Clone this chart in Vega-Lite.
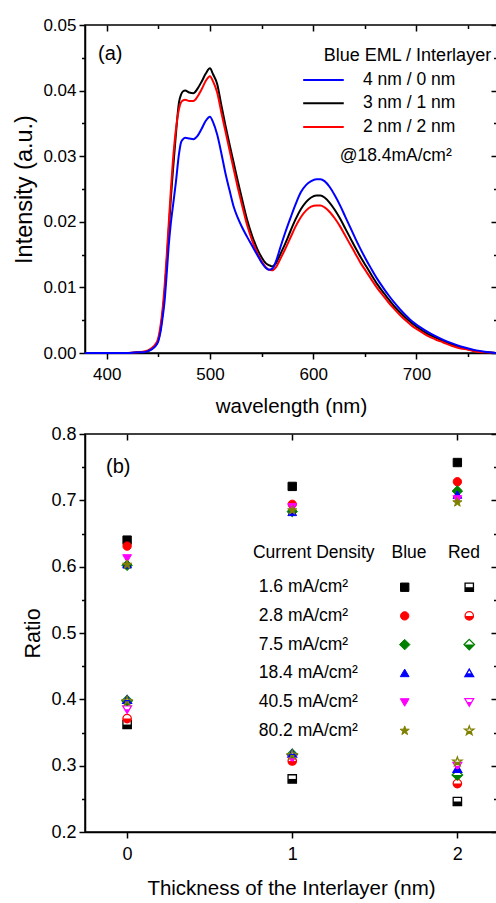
{
  "$schema": "https://vega.github.io/schema/vega-lite/v6.json",
  "padding": {"left": 12, "top": 15, "right": 0, "bottom": 0},
  "spacing": 6,
  "resolve": {"scale": {"color": "independent", "shape": "independent", "stroke": "independent"}},
  "config": {
    "font": "Liberation Sans",
    "view": {"stroke": "black", "strokeWidth": 1.5},
    "axis": {"grid": false, "domainColor": "black", "domainWidth": 1.5, "tickColor": "black", "tickWidth": 1.5, "labelColor": "black", "titleColor": "black", "titleFontWeight": "normal", "titleFontSize": 20.5, "labelFont": "Liberation Sans", "titleFont": "Liberation Sans"}
  },
  "datasets": {
    "pts": [
      {"t": 0, "d": "1.6", "c": "Blue", "r": 0.640},
      {"t": 0, "d": "2.8", "c": "Blue", "r": 0.631},
      {"t": 0, "d": "7.5", "c": "Blue", "r": 0.602},
      {"t": 0, "d": "18.4", "c": "Blue", "r": 0.603},
      {"t": 0, "d": "40.5", "c": "Blue", "r": 0.613},
      {"t": 0, "d": "80.2", "c": "Blue", "r": 0.603},
      {"t": 1, "d": "1.6", "c": "Blue", "r": 0.721},
      {"t": 1, "d": "2.8", "c": "Blue", "r": 0.694},
      {"t": 1, "d": "7.5", "c": "Blue", "r": 0.683},
      {"t": 1, "d": "18.4", "c": "Blue", "r": 0.682},
      {"t": 1, "d": "40.5", "c": "Blue", "r": 0.690},
      {"t": 1, "d": "80.2", "c": "Blue", "r": 0.685},
      {"t": 2, "d": "1.6", "c": "Blue", "r": 0.757},
      {"t": 2, "d": "2.8", "c": "Blue", "r": 0.728},
      {"t": 2, "d": "7.5", "c": "Blue", "r": 0.714},
      {"t": 2, "d": "18.4", "c": "Blue", "r": 0.708},
      {"t": 2, "d": "40.5", "c": "Blue", "r": 0.702},
      {"t": 2, "d": "80.2", "c": "Blue", "r": 0.697},
      {"t": 0, "d": "1.6", "c": "Red", "r": 0.362},
      {"t": 0, "d": "2.8", "c": "Red", "r": 0.371},
      {"t": 0, "d": "7.5", "c": "Red", "r": 0.398},
      {"t": 0, "d": "18.4", "c": "Red", "r": 0.399},
      {"t": 0, "d": "40.5", "c": "Red", "r": 0.385},
      {"t": 0, "d": "80.2", "c": "Red", "r": 0.397},
      {"t": 1, "d": "1.6", "c": "Red", "r": 0.280},
      {"t": 1, "d": "2.8", "c": "Red", "r": 0.307},
      {"t": 1, "d": "7.5", "c": "Red", "r": 0.317},
      {"t": 1, "d": "18.4", "c": "Red", "r": 0.318},
      {"t": 1, "d": "40.5", "c": "Red", "r": 0.311},
      {"t": 1, "d": "80.2", "c": "Red", "r": 0.316},
      {"t": 2, "d": "1.6", "c": "Red", "r": 0.246},
      {"t": 2, "d": "2.8", "c": "Red", "r": 0.273},
      {"t": 2, "d": "7.5", "c": "Red", "r": 0.286},
      {"t": 2, "d": "18.4", "c": "Red", "r": 0.295},
      {"t": 2, "d": "40.5", "c": "Red", "r": 0.300},
      {"t": 2, "d": "80.2", "c": "Red", "r": 0.306},
      {"t": 1.681, "d": "1.6", "c": "Blue", "r": 0.5690},
      {"t": 1.681, "d": "2.8", "c": "Blue", "r": 0.5258},
      {"t": 1.681, "d": "7.5", "c": "Blue", "r": 0.4825},
      {"t": 1.681, "d": "18.4", "c": "Blue", "r": 0.4392},
      {"t": 1.681, "d": "40.5", "c": "Blue", "r": 0.3959},
      {"t": 1.681, "d": "80.2", "c": "Blue", "r": 0.3527},
      {"t": 2.072, "d": "1.6", "c": "Red", "r": 0.5690},
      {"t": 2.072, "d": "2.8", "c": "Red", "r": 0.5258},
      {"t": 2.072, "d": "7.5", "c": "Red", "r": 0.4825},
      {"t": 2.072, "d": "18.4", "c": "Red", "r": 0.4392},
      {"t": 2.072, "d": "40.5", "c": "Red", "r": 0.3959},
      {"t": 2.072, "d": "80.2", "c": "Red", "r": 0.3527}
    ]
  },
  "vconcat": [
    {
      "width": 412,
      "height": 328,
      "data": {"values": [
        {"w": 379, "b": 0, "k": 0, "r": 0},
        {"w": 400, "b": 0, "k": 0, "r": 0},
        {"w": 420, "b": 0, "k": 0, "r": 0},
        {"w": 430, "b": 0.0001, "k": 0.0001, "r": 0.0001},
        {"w": 435, "b": 0.0001, "k": 0.0001, "r": 0.0002},
        {"w": 440, "b": 0.0003, "k": 0.0003, "r": 0.0004},
        {"w": 444, "b": 0.0006, "k": 0.0007, "r": 0.0008},
        {"w": 447, "b": 0.0010, "k": 0.0011, "r": 0.0013},
        {"w": 450, "b": 0.0018, "k": 0.0020, "r": 0.0023},
        {"w": 452, "b": 0.0031, "k": 0.0035, "r": 0.0040},
        {"w": 454, "b": 0.0052, "k": 0.0058, "r": 0.0065},
        {"w": 456, "b": 0.0078, "k": 0.0090, "r": 0.0100},
        {"w": 458, "b": 0.0118, "k": 0.0135, "r": 0.0145},
        {"w": 460, "b": 0.0162, "k": 0.0185, "r": 0.0195},
        {"w": 462, "b": 0.0196, "k": 0.0232, "r": 0.0245},
        {"w": 464, "b": 0.0222, "k": 0.0275, "r": 0.0290},
        {"w": 467, "b": 0.0260, "k": 0.0333, "r": 0.0340},
        {"w": 470, "b": 0.0303, "k": 0.0382, "r": 0.0372},
        {"w": 472, "b": 0.0321, "k": 0.0394, "r": 0.0382},
        {"w": 474, "b": 0.0326, "k": 0.0399, "r": 0.0385},
        {"w": 476, "b": 0.0328, "k": 0.0400, "r": 0.0386},
        {"w": 480, "b": 0.0327, "k": 0.0397, "r": 0.0384},
        {"w": 484, "b": 0.0326, "k": 0.0396, "r": 0.0384},
        {"w": 488, "b": 0.0331, "k": 0.0403, "r": 0.0391},
        {"w": 492, "b": 0.0342, "k": 0.0414, "r": 0.0402},
        {"w": 496, "b": 0.0354, "k": 0.0426, "r": 0.0415},
        {"w": 500, "b": 0.0360, "k": 0.0434, "r": 0.0422},
        {"w": 503, "b": 0.0352, "k": 0.0425, "r": 0.0414},
        {"w": 507, "b": 0.0333, "k": 0.0410, "r": 0.0397},
        {"w": 511, "b": 0.0305, "k": 0.0378, "r": 0.0367},
        {"w": 515, "b": 0.0274, "k": 0.0347, "r": 0.0338},
        {"w": 519, "b": 0.0248, "k": 0.0318, "r": 0.0309},
        {"w": 523, "b": 0.0223, "k": 0.0290, "r": 0.0280},
        {"w": 527, "b": 0.0206, "k": 0.0262, "r": 0.0252},
        {"w": 531, "b": 0.0192, "k": 0.0235, "r": 0.0226},
        {"w": 536, "b": 0.0177, "k": 0.0203, "r": 0.0195},
        {"w": 541, "b": 0.0163, "k": 0.0178, "r": 0.0171},
        {"w": 546, "b": 0.0149, "k": 0.0158, "r": 0.0152},
        {"w": 550, "b": 0.0138, "k": 0.0146, "r": 0.0140},
        {"w": 554, "b": 0.0130, "k": 0.0137, "r": 0.0131},
        {"w": 557, "b": 0.0127, "k": 0.0134, "r": 0.0127},
        {"w": 560, "b": 0.0128, "k": 0.0132, "r": 0.0126},
        {"w": 564, "b": 0.0140, "k": 0.0137, "r": 0.0131},
        {"w": 568, "b": 0.0160, "k": 0.0150, "r": 0.0143},
        {"w": 573, "b": 0.0184, "k": 0.0167, "r": 0.0159},
        {"w": 578, "b": 0.0206, "k": 0.0186, "r": 0.0176},
        {"w": 583, "b": 0.0227, "k": 0.0204, "r": 0.0193},
        {"w": 588, "b": 0.0245, "k": 0.0219, "r": 0.0207},
        {"w": 593, "b": 0.0256, "k": 0.0230, "r": 0.0217},
        {"w": 598, "b": 0.0262, "k": 0.0237, "r": 0.0223},
        {"w": 603, "b": 0.0265, "k": 0.0240, "r": 0.0225},
        {"w": 607, "b": 0.0265, "k": 0.0240, "r": 0.0225},
        {"w": 611, "b": 0.0262, "k": 0.0237, "r": 0.0222},
        {"w": 616, "b": 0.0253, "k": 0.0229, "r": 0.0215},
        {"w": 621, "b": 0.0240, "k": 0.0218, "r": 0.0205},
        {"w": 626, "b": 0.0225, "k": 0.0205, "r": 0.0193},
        {"w": 631, "b": 0.0208, "k": 0.0190, "r": 0.0179},
        {"w": 636, "b": 0.0191, "k": 0.0175, "r": 0.0165},
        {"w": 641, "b": 0.0174, "k": 0.0160, "r": 0.0151},
        {"w": 646, "b": 0.0158, "k": 0.0146, "r": 0.0137},
        {"w": 651, "b": 0.0143, "k": 0.0133, "r": 0.0125},
        {"w": 656, "b": 0.0129, "k": 0.0120, "r": 0.0113},
        {"w": 662, "b": 0.0113, "k": 0.0105, "r": 0.0099},
        {"w": 668, "b": 0.0099, "k": 0.0092, "r": 0.0087},
        {"w": 673, "b": 0.0088, "k": 0.0082, "r": 0.0077},
        {"w": 678, "b": 0.0078, "k": 0.0072, "r": 0.0068},
        {"w": 684, "b": 0.0067, "k": 0.0062, "r": 0.0058},
        {"w": 690, "b": 0.0057, "k": 0.0053, "r": 0.0049},
        {"w": 696, "b": 0.0048, "k": 0.0045, "r": 0.0041},
        {"w": 702, "b": 0.0041, "k": 0.0038, "r": 0.0035},
        {"w": 710, "b": 0.0033, "k": 0.0030, "r": 0.0027},
        {"w": 718, "b": 0.0026, "k": 0.0024, "r": 0.0021},
        {"w": 726, "b": 0.0020, "k": 0.0018, "r": 0.0016},
        {"w": 734, "b": 0.0015, "k": 0.0013, "r": 0.0011},
        {"w": 743, "b": 0.0010, "k": 0.0009, "r": 0.0007},
        {"w": 750, "b": 0.0007, "k": 0.0006, "r": 0.0005},
        {"w": 758, "b": 0.0004, "k": 0.0003, "r": 0.0002},
        {"w": 766, "b": 0.0002, "k": 0.0001, "r": 0.0001},
        {"w": 778, "b": 0, "k": 0, "r": 0}
      ]},
      "layer": [
        {
          "transform": [{"fold": ["k", "r", "b"], "as": ["s", "v"]}],
          "mark": {"type": "line", "strokeWidth": 2, "interpolate": "monotone"},
          "encoding": {
            "x": {"field": "w", "type": "quantitative", "scale": {"domain": [379, 778], "nice": false, "zero": false},
              "axis": {"title": "wavelength (nm)", "values": [400, 500, 600, 700], "tickSize": 6, "labelFontSize": 17, "labelPadding": 7, "titlePadding": 14}},
            "y": {"field": "v", "type": "quantitative", "scale": {"domain": [0, 0.05], "nice": false},
              "axis": {"title": "Intensity (a.u.)", "titleFontSize": 23.5, "values": [0, 0.01, 0.02, 0.03, 0.04, 0.05], "format": ".2f", "tickSize": 6, "labelFontSize": 17, "labelPadding": 3, "titlePadding": 6}},
            "color": {"field": "s", "type": "nominal", "scale": {"domain": ["b", "k", "r"], "range": ["#0000ff", "#000000", "#ff0000"]}, "legend": null}
          }
        },
        {
          "data": {"values": [
            {"x1": 590.3, "x2": 629.6, "y": 0.04162, "s": "b"},
            {"x1": 590.3, "x2": 629.6, "y": 0.03806, "s": "k"},
            {"x1": 590.3, "x2": 629.6, "y": 0.03445, "s": "r"}
          ]},
          "mark": {"type": "rule", "strokeWidth": 2},
          "encoding": {
            "x": {"field": "x1", "type": "quantitative", "axis": {"orient": "bottom", "values": [450, 550, 650, 750], "labels": false, "tickSize": 3.5, "title": null, "domain": false}},
            "x2": {"field": "x2"},
            "y": {"field": "y", "type": "quantitative", "axis": {"orient": "left", "values": [0.005, 0.015, 0.025, 0.035, 0.045], "labels": false, "tickSize": 3.5, "title": null, "domain": false}},
            "color": {"field": "s", "type": "nominal", "legend": null}
          }
        },
        {
          "data": {"values": [
            {"x": 648.2, "y": 0.04162, "txt": "4 nm / 0 nm"},
            {"x": 648.2, "y": 0.03806, "txt": "3 nm / 1 nm"},
            {"x": 648.2, "y": 0.03445, "txt": "2 nm / 2 nm"},
            {"x": 625.6, "y": 0.0300, "txt": "@18.4mA/cm²"}
          ]},
          "mark": {"type": "text", "align": "left", "baseline": "middle", "fontSize": 17.5, "color": "black"},
          "encoding": {
            "x": {"field": "x", "type": "quantitative", "axis": {"orient": "top", "values": [400, 500, 600, 700], "labels": false, "tickSize": -6, "title": null, "domain": false}},
            "y": {"field": "y", "type": "quantitative", "axis": {"orient": "right", "values": [0, 0.01, 0.02, 0.03, 0.04, 0.05], "labels": false, "tickSize": -6, "title": null, "domain": false}},
            "text": {"field": "txt"}
          }
        },
        {
          "data": {"values": [{"x": 610.2, "y": 0.0453, "txt": "Blue EML / Interlayer"}]},
          "mark": {"type": "text", "align": "left", "baseline": "middle", "fontSize": 18, "color": "black"},
          "encoding": {
            "x": {"field": "x", "type": "quantitative", "axis": null},
            "y": {"field": "y", "type": "quantitative", "axis": null},
            "text": {"field": "txt"}
          }
        },
        {
          "data": {"values": [{"x": 391.6, "y": 0.0456, "txt": "(a)"}]},
          "mark": {"type": "text", "align": "left", "baseline": "middle", "fontSize": 20, "color": "black"},
          "encoding": {
            "x": {"field": "x", "type": "quantitative", "axis": {"orient": "top", "values": [450, 550, 650, 750], "labels": false, "tickSize": -3.5, "title": null, "domain": false}},
            "y": {"field": "y", "type": "quantitative", "axis": {"orient": "right", "values": [0.005, 0.015, 0.025, 0.035, 0.045], "labels": false, "tickSize": -3.5, "title": null, "domain": false}},
            "text": {"field": "txt"}
          }
        }
      ],
      "resolve": {"axis": {"x": "independent", "y": "independent"}}
    },
    {
      "width": 412,
      "height": 398,
      "data": {"name": "pts"},
      "layer": [
        {
          "transform": [{"filter": "datum.c == 'Blue'"}],
          "mark": {"type": "point", "filled": true, "size": 70, "opacity": 1, "strokeWidth": 1},
          "encoding": {
            "x": {"field": "t", "type": "quantitative", "scale": {"domain": [-0.255, 2.24], "nice": false, "zero": false},
              "axis": {"title": "Thickness of the Interlayer (nm)", "values": [0, 1, 2], "format": "d", "tickSize": 6, "labelFontSize": 18, "labelPadding": 7, "titlePadding": 15}},
            "y": {"field": "r", "type": "quantitative", "scale": {"domain": [0.2, 0.8], "nice": false, "zero": false},
              "axis": {"title": "Ratio", "titleFontSize": 21.5, "values": [0.2, 0.3, 0.4, 0.5, 0.6, 0.7, 0.8], "format": ".1f", "tickSize": 6, "labelFontSize": 18, "labelPadding": 3, "titlePadding": 6}},
            "shape": {"field": "d", "type": "nominal", "legend": null, "scale": {"domain": ["1.6", "2.8", "7.5", "18.4", "40.5", "80.2"],
              "range": ["square", "circle", "M0,-1.25L1.25,0L0,1.25L-1.25,0Z", "M0,-1L1.05,0.8L-1.05,0.8Z", "M-1.05,-0.8L1.05,-0.8L0,1Z", "M0,-1.15L0.27,-0.373L1.094,-0.355L0.437,0.143L0.676,0.93L0,0.46L-0.676,0.93L-0.437,0.143L-1.094,-0.355L-0.27,-0.373Z"]}},
            "color": {"field": "d", "type": "nominal", "legend": null, "scale": {"domain": ["1.6", "2.8", "7.5", "18.4", "40.5", "80.2"], "range": ["#000000", "#ff0000", "#008000", "#0000ff", "#ff00ff", "#808000"]}},
            "stroke": {"field": "d", "type": "nominal", "legend": null, "scale": {"domain": ["1.6", "2.8", "7.5", "18.4", "40.5", "80.2"], "range": ["#000000", "#ff0000", "#008000", "#0000ff", "#ff00ff", "#808000"]}}
          }
        },
        {
          "transform": [{"filter": "datum.c == 'Red'"}],
          "mark": {"type": "point", "filled": true, "fill": "white", "size": 70, "opacity": 1, "strokeWidth": 1.3},
          "encoding": {
            "x": {"field": "t", "type": "quantitative", "axis": null},
            "y": {"field": "r", "type": "quantitative", "axis": {"orient": "left", "values": [0.25, 0.35, 0.45, 0.55, 0.65, 0.75], "labels": false, "tickSize": 3.5, "title": null, "domain": false}},
            "shape": {"field": "d", "type": "nominal", "legend": null, "scale": {"domain": ["1.6", "2.8", "7.5", "18.4", "40.5", "80.2"],
              "range": ["square", "circle", "M0,-1.25L1.25,0L0,1.25L-1.25,0Z", "M0,-1L1.05,0.8L-1.05,0.8Z", "M-1.05,-0.8L1.05,-0.8L0,1Z", "M0,-1.15L0.27,-0.373L1.094,-0.355L0.437,0.143L0.676,0.93L0,0.46L-0.676,0.93L-0.437,0.143L-1.094,-0.355L-0.27,-0.373Z"]}},
            "stroke": {"field": "d", "type": "nominal", "legend": null, "scale": {"domain": ["1.6", "2.8", "7.5", "18.4", "40.5", "80.2"], "range": ["#000000", "#ff0000", "#008000", "#0000ff", "#ff00ff", "#808000"]}}
          }
        },
        {
          "transform": [{"filter": "datum.c == 'Red'"}],
          "mark": {"type": "point", "filled": true, "size": 70, "opacity": 1, "strokeWidth": 0},
          "encoding": {
            "x": {"field": "t", "type": "quantitative", "axis": {"orient": "top", "values": [0, 1, 2], "labels": false, "tickSize": -6, "title": null, "domain": false}},
            "y": {"field": "r", "type": "quantitative", "axis": {"orient": "right", "values": [0.2, 0.3, 0.4, 0.5, 0.6, 0.7, 0.8], "labels": false, "tickSize": -6, "title": null, "domain": false}},
            "shape": {"field": "d", "type": "nominal", "legend": null, "scale": {"domain": ["1.6", "2.8", "7.5", "18.4", "40.5", "80.2"],
              "range": ["M-1,0L1,0L1,1L-1,1Z", "M-1,0A1,1 0 0,0 1,0Z", "M-1.25,0L1.25,0L0,1.25Z", "M-0.583,0L0.583,0L1.05,0.8L-1.05,0.8Z", "M-0.583,0L0.583,0L0,1Z", "M0.625,0L0.437,0.143L0.676,0.93L0,0.46L-0.676,0.93L-0.437,0.143L-0.625,0Z"]}},
            "color": {"field": "d", "type": "nominal", "legend": null}
          }
        },
        {
          "data": {"values": [
            {"x": 0.762, "y": 0.6201, "txt": "Current Density"},
            {"x": 0.797, "y": 0.5690, "txt": "1.6 mA/cm²"},
            {"x": 0.797, "y": 0.5258, "txt": "2.8 mA/cm²"},
            {"x": 0.797, "y": 0.4825, "txt": "7.5 mA/cm²"},
            {"x": 0.797, "y": 0.4392, "txt": "18.4 mA/cm²"},
            {"x": 0.797, "y": 0.3959, "txt": "40.5 mA/cm²"},
            {"x": 0.797, "y": 0.3527, "txt": "80.2 mA/cm²"}
          ]},
          "mark": {"type": "text", "align": "left", "baseline": "middle", "fontSize": 17.5, "color": "black"},
          "encoding": {
            "x": {"field": "x", "type": "quantitative", "axis": null},
            "y": {"field": "y", "type": "quantitative", "axis": {"orient": "right", "values": [0.25, 0.35, 0.45, 0.55, 0.65, 0.75], "labels": false, "tickSize": -3.5, "title": null, "domain": false}},
            "text": {"field": "txt"}
          }
        },
        {
          "data": {"values": [
            {"x": 1.707, "y": 0.6201, "txt": "Blue"},
            {"x": 2.040, "y": 0.6201, "txt": "Red"}
          ]},
          "mark": {"type": "text", "align": "center", "baseline": "middle", "fontSize": 17.5, "color": "black"},
          "encoding": {
            "x": {"field": "x", "type": "quantitative", "axis": null},
            "y": {"field": "y", "type": "quantitative", "axis": null},
            "text": {"field": "txt"}
          }
        },
        {
          "data": {"values": [{"x": -0.128, "y": 0.7507, "txt": "(b)"}]},
          "mark": {"type": "text", "align": "left", "baseline": "middle", "fontSize": 20, "color": "black"},
          "encoding": {
            "x": {"field": "x", "type": "quantitative", "axis": null},
            "y": {"field": "y", "type": "quantitative", "axis": null},
            "text": {"field": "txt"}
          }
        }
      ],
      "resolve": {"axis": {"x": "independent", "y": "independent"}, "scale": {"shape": "independent"}}
    }
  ]
}
